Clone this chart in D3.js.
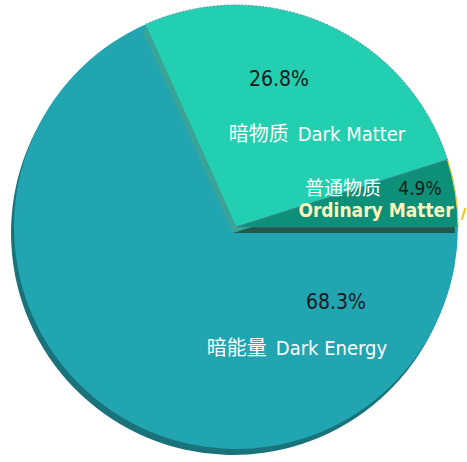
<!DOCTYPE html>
<html>
<head>
<meta charset="utf-8">
<script src="https://cdn.jsdelivr.net/npm/d3@7"></script>
<style>
  html, body { margin: 0; padding: 0; background: #fff; }
  svg { display: block; }
  text { white-space: pre; }
</style>
</head>
<body>
<div id="chart"></div>
<script>
// data
const categories = ["Ordinary Matter", "Dark Matter", "Dark Energy"];
const namesZh = ["普通物质", "暗物质", "暗能量"];
const shares = [4.9, 26.8, 68.3];
const faceColors = ["#0e8f78", "#22cfb0", "#21a5b1"];
const sideColors = ["#22584a", "#3aa596", "#1a727a"];

const W = 467, H = 462;
const cx = 236, cy = 227, R = 222;
const depth = { x: -3, y: 6 };

const data = categories.map((c, i) => ({ name: c, zh: namesZh[i], value: shares[i], i }));

const svg = d3.select("#chart").append("svg")
  .attr("width", W)
  .attr("height", H);

const g = svg.append("g").attr("transform", `translate(${cx},${cy})`);

// start at 3 o'clock, go counter-clockwise
const pie = d3.pie()
  .sort(null)
  .value(d => d.value)
  .startAngle(Math.PI / 2)
  .endAngle(Math.PI / 2 - 2 * Math.PI);

const arc = d3.arc().innerRadius(0).outerRadius(R);
const arcs = pie(data);

// draw the big slice first, then the others, each with its side below it
const order = [2, 1, 0];
order.forEach(k => {
  const a = arcs[k];
  g.append("path")
    .attr("d", arc(a))
    .attr("transform", `translate(${depth.x},${depth.y})`)
    .attr("fill", sideColors[k]);
  g.append("path")
    .attr("d", arc(a))
    .attr("fill", faceColors[k])
    .attr("stroke", k === 2 ? "none" : "#4d7f95")
    .attr("stroke-width", 0.8)
    .attr("stroke-dasharray", "2,1.5");
});

// thin yellow rim and stub on ordinary matter at the right edge
const om = arcs[0];
g.append("path")
  .attr("d", d3.arc().innerRadius(R - 0.5).outerRadius(R + 0.5)(om))
  .attr("fill", "#f2d23a");
const stubA = om.startAngle - 0.05;
g.append("path")
  .attr("d", d3.line()([
    [Math.sin(stubA) * (R + 4), -Math.cos(stubA) * (R + 4) + 4],
    [Math.sin(stubA - 0.02) * (R + 8), -Math.cos(stubA - 0.02) * (R + 8) - 3]
  ]))
  .attr("stroke", "#f5c518")
  .attr("stroke-width", 2)
  .attr("fill", "none");

const latin = "'DejaVu Sans Condensed', 'DejaVu Sans', 'Noto Sans CJK SC', sans-serif";
const cjk = "'Noto Sans CJK SC', sans-serif";

// label placement (relative to centre)
const labelPos = {
  "Dark Matter":     { pct: [43, -141], name: [81, -86] },
  "Dark Energy":     { pct: [100, 82],  name: [61, 128] },
  "Ordinary Matter": { pct: [184, -32], name: [140, -10] }
};

arcs.forEach(a => {
  const d = a.data;
  const p = labelPos[d.name];
  g.append("text")
    .attr("x", p.pct[0]).attr("y", p.pct[1])
    .attr("text-anchor", "middle")
    .attr("fill", "#1a1a1a")
    .style("font-family", latin)
    .style("font-size", d.name === "Ordinary Matter" ? "19px" : "21px")
    .text(d3.format(".1f")(d.value) + "%");

  if (d.name === "Ordinary Matter") {
    g.append("text")
      .attr("x", p.pct[0] - 77).attr("y", p.pct[1])
      .attr("text-anchor", "middle")
      .attr("fill", "#ffffff")
      .style("font-family", cjk)
      .style("font-size", "19px")
      .text(d.zh);
    g.append("text")
      .attr("x", p.name[0]).attr("y", p.name[1])
      .attr("text-anchor", "middle")
      .attr("fill", "#fff3b8")
      .style("font-family", latin)
      .style("font-size", "19px")
      .style("font-weight", "bold")
      .text(d.name);
  } else {
    const t = g.append("text")
      .attr("x", p.name[0]).attr("y", p.name[1])
      .attr("text-anchor", "middle")
      .attr("fill", "#ffffff")
      .style("font-size", "20px");
    t.append("tspan").style("font-family", cjk).text(d.zh + "  ");
    t.append("tspan").style("font-family", latin).text(d.name);
  }
});
</script>
</body>
</html>
